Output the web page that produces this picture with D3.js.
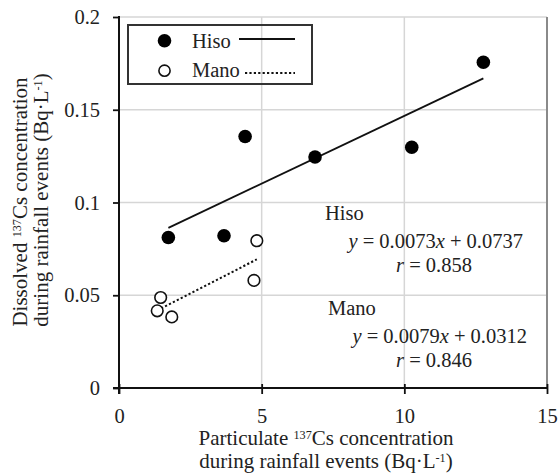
<!DOCTYPE html>
<html><head><meta charset="utf-8">
<script src="https://cdn.jsdelivr.net/npm/d3@7"></script>
<style>
html,body{margin:0;padding:0;background:#fff;}
svg{display:block;}
</style></head>
<body><svg id="c" width="560" height="476"></svg>
<script>
// ---- data ----
const hisoX = [1.73, 3.68, 4.42, 6.87, 10.26, 12.77];
const hisoY = [0.0811, 0.0821, 0.1356, 0.1245, 0.1298, 0.1756];
const manoX = [1.34, 1.46, 1.85, 4.73, 4.83];
const manoY = [0.0416, 0.0488, 0.0383, 0.058, 0.0794];
const fitSlope = [0.0073, 0.0079];      // Hiso, Mano
const fitIntercept = [0.0737, 0.0312];
const fitR = ["0.858", "0.846"];
const fitRange = [[1.73, 12.77], [1.34, 4.83]];
const seriesNames = ["Hiso", "Mano"];
const xTicks = [0, 5, 10, 15];
const yTicks = [0, 0.05, 0.1, 0.15, 0.2];
const yTickLabels = ["0", "0.05", "0.1", "0.15", "0.2"];

const FONT = "'Liberation Serif', 'Times New Roman', serif";
const svg = d3.select("#c");
const L = 119, R = 547, T = 17, B = 388;
const x = d3.scaleLinear().domain([0, 15]).range([L, R]);
const y = d3.scaleLinear().domain([0, 0.2]).range([B, T]);

// gridlines
const g = svg.append("g");
g.selectAll(".gx").data(xTicks.slice(1, -1)).enter().append("line")
  .attr("x1", d => x(d)).attr("x2", d => x(d)).attr("y1", T).attr("y2", B)
  .attr("stroke", "#d6d6d6").attr("stroke-width", 1.5);
g.selectAll(".gy").data(yTicks.slice(1)).enter().append("line")
  .attr("x1", L).attr("x2", R).attr("y1", d => y(d)).attr("y2", d => y(d))
  .attr("stroke", "#d6d6d6").attr("stroke-width", 1.5);
// right border
g.append("line").attr("x1", R).attr("x2", R).attr("y1", T).attr("y2", B)
  .attr("stroke", "#8a8a8a").attr("stroke-width", 2);

// axes
const fs = 20.5, fsT = 21;
const xAxis = svg.append("g").attr("transform", `translate(0,${B})`)
  .call(d3.axisBottom(x).tickValues(xTicks).tickSize(6).tickSizeOuter(0).tickPadding(14).tickFormat(d3.format("d")));
xAxis.select(".domain").attr("stroke", "#111").attr("stroke-width", 2).attr("d", `M${L - 6},0H${R}`);
xAxis.selectAll(".tick line").attr("stroke", "#111").attr("stroke-width", 1.8).attr("y1", -4).attr("y2", 6);
xAxis.selectAll(".tick text").attr("font-size", fs);

const yAxis = svg.append("g").attr("transform", `translate(${L},0)`)
  .call(d3.axisLeft(y).tickValues(yTicks).tickSize(6).tickSizeOuter(0).tickPadding(13)
    .tickFormat((d, i) => yTickLabels[i]));
yAxis.select(".domain").attr("stroke", "#111").attr("stroke-width", 2).attr("d", `M0,${T - 1}V${B + 6}`);
yAxis.selectAll(".tick line").attr("stroke", "#111").attr("stroke-width", 1.8);
yAxis.selectAll(".tick text").attr("font-size", fs);

// fit lines
const dashes = [null, "2.2,2.2"];
fitSlope.forEach((m, i) => {
  const [a, b] = fitRange[i];
  svg.append("line")
    .attr("x1", x(a)).attr("y1", y(m * a + fitIntercept[i]))
    .attr("x2", x(b)).attr("y2", y(m * b + fitIntercept[i]))
    .attr("stroke", "#111").attr("stroke-width", i === 0 ? 1.8 : 2)
    .attr("stroke-dasharray", dashes[i]);
});

// points
const hiso = hisoX.map((v, i) => [v, hisoY[i]]);
const mano = manoX.map((v, i) => [v, manoY[i]]);
svg.selectAll(".h").data(hiso).enter().append("circle")
  .attr("cx", d => x(d[0])).attr("cy", d => y(d[1])).attr("r", 6.8).attr("fill", "#000");
svg.selectAll(".m").data(mano).enter().append("circle")
  .attr("cx", d => x(d[0])).attr("cy", d => y(d[1])).attr("r", 5.8)
  .attr("fill", "#fff").attr("stroke", "#111").attr("stroke-width", 1.6);

// legend (transparent box, gridline shows through)
svg.append("rect").attr("x", 128).attr("y", 25).attr("width", 184).attr("height", 59)
  .attr("fill", "none").attr("stroke", "#333").attr("stroke-width", 2);
svg.append("circle").attr("cx", 164.5).attr("cy", 40.7).attr("r", 6.8).attr("fill", "#000");
svg.append("circle").attr("cx", 164.5).attr("cy", 70.7).attr("r", 5.6).attr("fill", "#fff")
  .attr("stroke", "#111").attr("stroke-width", 1.6);
svg.append("text").attr("x", 192).attr("y", 47.5).attr("font-size", fs).text(seriesNames[0]);
svg.append("text").attr("x", 192).attr("y", 77).attr("font-size", fs).text(seriesNames[1]);
svg.append("line").attr("x1", 239).attr("x2", 295).attr("y1", 39).attr("y2", 39)
  .attr("stroke", "#111").attr("stroke-width", 1.8);
svg.append("line").attr("x1", 245).attr("x2", 295).attr("y1", 73).attr("y2", 73)
  .attr("stroke", "#111").attr("stroke-width", 2).attr("stroke-dasharray", "2.2,2.2");

// annotations
const ann = [
  {name: 325, eq: 523, r: 472, yn: 220, ye: 248, yr: 272},
  {name: 328, eq: 527, r: 472, yn: 315, ye: 343, yr: 367}
];
fitSlope.forEach((m, i) => {
  const a = ann[i];
  svg.append("text").attr("x", a.name).attr("y", a.yn).attr("font-size", fs).text(seriesNames[i]);
  const t = svg.append("text").attr("x", a.eq).attr("y", a.ye).attr("font-size", fs).attr("text-anchor", "end");
  t.append("tspan").attr("font-style", "italic").text("y");
  t.append("tspan").text(" = " + m.toFixed(4));
  t.append("tspan").attr("font-style", "italic").text("x");
  t.append("tspan").text(" + " + fitIntercept[i].toFixed(4));
  const r = svg.append("text").attr("x", a.r).attr("y", a.yr).attr("font-size", fs).attr("text-anchor", "end");
  r.append("tspan").attr("font-style", "italic").text("r");
  r.append("tspan").text(" = " + fitR[i]);
});

// axis titles
function titled(sel, parts) {
  parts.forEach(p => {
    const ts = sel.append("tspan").text(p.t);
    if (p.sup) ts.attr("font-size", fsT * 0.58).attr("dy", -6);
    if (p.after) ts.attr("dy", 6);
  });
}
const xt1 = svg.append("text").attr("x", 326).attr("y", 445).attr("text-anchor", "middle").attr("font-size", fsT);
titled(xt1, [{t: "Particulate "}, {t: "137", sup: 1}, {t: "Cs concentration", after: 1}]);
const xt2 = svg.append("text").attr("x", 326).attr("y", 468).attr("text-anchor", "middle").attr("font-size", fsT);
titled(xt2, [{t: "during rainfall events (Bq·L"}, {t: "-1", sup: 1}, {t: ")", after: 1}]);

const yt1 = svg.append("text").attr("transform", "translate(27,202) rotate(-90)").attr("text-anchor", "middle").attr("font-size", fsT);
titled(yt1, [{t: "Dissolved "}, {t: "137", sup: 1}, {t: "Cs concentration", after: 1}]);
const yt2 = svg.append("text").attr("transform", "translate(48,200) rotate(-90)").attr("text-anchor", "middle").attr("font-size", fsT);
titled(yt2, [{t: "during rainfall events (Bq·L"}, {t: "-1", sup: 1}, {t: ")", after: 1}]);

svg.selectAll("text").style("font-family", FONT).style("fill", "#222");
</script></body></html>
